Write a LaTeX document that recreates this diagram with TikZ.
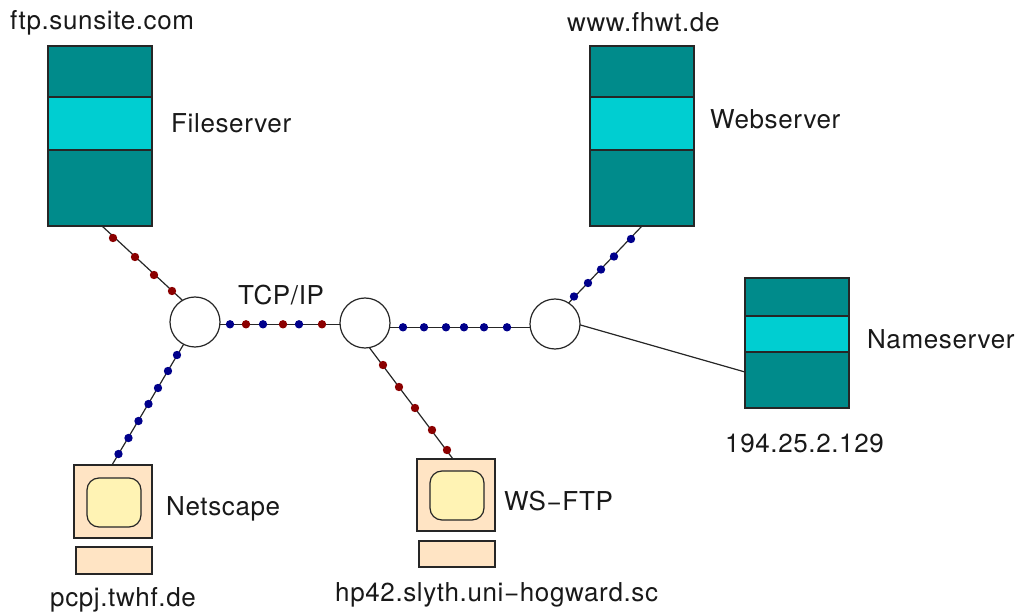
\documentclass[tikz,border=0pt]{standalone}
\usepackage{fontspec}
\setmainfont{TeX Gyre Heros}[LetterSpace=2.4]
\tikzset{
  x=1pt,y=-1pt,
  lbl/.style={inner sep=0pt,font=\fontsize{26}{26}\selectfont,text=black!90,anchor=base west},
  box/.style={draw=black!85,line width=1.2pt,inner sep=0pt,outer sep=0pt,minimum width=104pt},
  dark/.style={box,fill=srvdark},
  light/.style={box,fill=srvlight},
  hub/.style={draw=black!85,line width=1.2pt,fill=white,circle,minimum size=50pt,inner sep=0pt,outer sep=0pt},
  peachbox/.style={draw=black!85,line width=1.2pt,fill=peach,inner sep=0pt,outer sep=0pt},
  scr/.style={draw=black!85,line width=1.2pt,fill=screen,rounded corners=12pt,inner sep=0pt,outer sep=0pt},
  wire/.style={draw=black!85,line width=1.2pt},
  rdot/.style={fill=dotred},
  bdot/.style={fill=dotblue},
}
\definecolor{srvdark}{HTML}{008B8B}
\definecolor{srvlight}{HTML}{00CED1}
\definecolor{peach}{HTML}{FFE4C4}
\definecolor{screen}{HTML}{FFF3B4}
\definecolor{dotred}{HTML}{8B0000}
\definecolor{dotblue}{HTML}{00008B}
\newcommand{\stackboxes}[6]{% name, x centre, y0, y1, y2, y3
  \node[dark,minimum height=#4pt-#3pt] (#1a) at (#2,{(#3+#4)/2}) {};
  \node[light,minimum height=#5pt-#4pt] (#1b) at (#2,{(#4+#5)/2}) {};
  \node[dark,minimum height=#6pt-#5pt] (#1c) at (#2,{(#5+#6)/2}) {};
}
\begin{document}
\begin{tikzpicture}
\useasboundingbox (0,0) rectangle (1018,612);
\node[hub] (hubA) at (195,322) {};
\node[hub] (hubB) at (365,323) {};
\node[hub] (hubC) at (555,324) {};
\stackboxes{file}{100}{46}{97}{150}{226}
\stackboxes{web}{642}{46}{97}{150}{226}
\stackboxes{name}{797}{278}{316}{352}{408}
\node[peachbox,minimum width=78pt,minimum height=73pt] (monA) at (113,501.5) {};
\node[scr,minimum width=54pt,minimum height=49pt] (scrA) at (114,502.5) {};
\node[peachbox,minimum width=76pt,minimum height=27pt] (baseA) at (114,560.5) {};
\node[peachbox,minimum width=78pt,minimum height=72pt] (monB) at (456,495) {};
\node[scr,minimum width=54pt,minimum height=49pt] (scrB) at (457,495.5) {};
\node[peachbox,minimum width=76pt,minimum height=26pt] (baseB) at (457,554) {};
\draw[wire] ([xshift=2pt]filec.south) -- (hubA.120.6);
\draw[wire] ([yshift=-2.3pt]hubA.east) -- ([yshift=-1.3pt]hubB.west);
\draw[wire] ([yshift=-4.3pt]hubB.east) -- ([yshift=-3.3pt]hubC.west);
\draw[wire] (webc.south) -- (hubC.57.5);
\draw[wire] (hubC.-2) -- ([yshift=8pt]namec.west);
\draw[wire] (hubA.-117.5) -- ([xshift=-1pt]monA.north);
\draw[wire] (hubB.-80.5) -- ([xshift=-3pt]monB.north);
\foreach \p in {(113,238),(135,257),(154,275),(172,291),(246,324.3),(283,324.3),(322,324.3),(383,365),(399,387),(415,408),(432,430),(447,450)}
  \fill[rdot] \p circle (4.2pt);
\foreach \p in {(230,324.3),(263,324.3),(299,324.3),(403,327.3),(424,327.3),(446,327.3),(464,327.3),(484,327.3),(507,327.3),(574,296.5),(588,283),(601,269.5),(614,256.5),(631,239),(177,355),(168,371),(158,388),(148.5,404),(138.5,421),(128.5,438),(118.5,454)}
  \fill[bdot] \p circle (4.2pt);
\node[lbl] (t1) at (10,30) {ftp.sunsite.com};
\node[lbl] (t2) at (567,32) {www.fhwt.de};
\node[lbl] (t3) at (171,133) {Fileserver};
\node[lbl] (t4) at (710,129) {Webserver};
\node[lbl] (t5) at (867,349) {Nameserver};
\node[lbl] (t6) at (725,453) {194.25.2.129};
\node[lbl] (t7) at (238,305) {TCP/IP};
\node[lbl] (t8) at (166,515) {Netscape};
\node[lbl] (t9) at (50,606) {pcpj.twhf.de};
\node[lbl] (t10) at (504,510) {WS−FTP};
\node[lbl] (t11) at (335,601) {hp42.slyth.uni−hogward.sc};
\end{tikzpicture}
\end{document}
